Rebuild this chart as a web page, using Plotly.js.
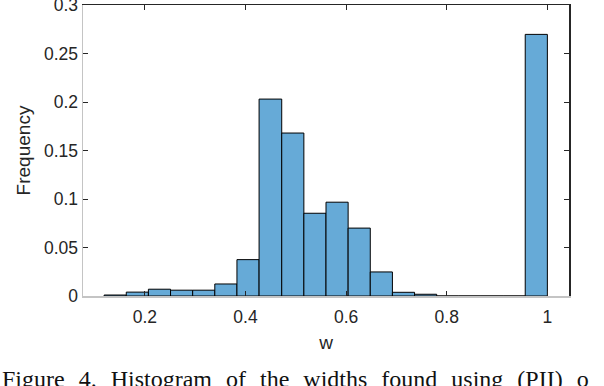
<!DOCTYPE html>
<html>
<head>
<meta charset="utf-8">
<script src="https://cdn.plot.ly/plotly-3.0.1.min.js"></script>
<style>
  html, body { margin: 0; padding: 0; background: #fff; }
  #histPlot { width: 604px; height: 386px; }
</style>
</head>
<body>
<div id="histPlot"></div>
<script>
const HIST = document.getElementById("histPlot");

// bin edges of the histogram (20 bins, 0.119 .. 1.0)
var binEdges = [0.119, 0.163, 0.207, 0.251, 0.295, 0.339, 0.383, 0.427, 0.472, 0.516,
                0.560, 0.604, 0.648, 0.692, 0.736, 0.780, 0.824, 0.868, 0.912, 0.956, 1.0];
// relative frequency in each bin
var freq = [0.001, 0.004, 0.007, 0.006, 0.006, 0.0124, 0.0375, 0.203, 0.168, 0.0853,
            0.0967, 0.070, 0.0248, 0.0038, 0.0018, 0, 0, 0, 0, 0.2697];
var xTicks = [0.2, 0.4, 0.6, 0.8, 1];
var xTickText = ["0.2", "0.4", "0.6", "0.8", "1"];
var yTicks = [0, 0.05, 0.1, 0.15, 0.2, 0.25, 0.3];
var yTickText = ["0", "0.05", "0.1", "0.15", "0.2", "0.25", "0.3"];
var captionWords = ["Figure", "4.", "Histogram", "of", "the", "widths", "found", "using", "(PII)", "o"];

var centers = [];
var widths = [];
for (var i = 0; i < freq.length; i++) {
    centers.push((binEdges[i] + binEdges[i + 1]) / 2);
    widths.push(binEdges[i + 1] - binEdges[i]);
}

var xRange = [0.077, 1.043];
var yRange = [0, 0.3];
var tickFont = {family: "Liberation Sans, Arial, sans-serif", size: 17.5, color: "#262626"};
var labelFont = {family: "Liberation Sans, Arial, sans-serif", size: 19, color: "#262626"};

Plotly.newPlot(HIST, [{
        x: centers,
        y: freq,
        width: widths,
        type: "bar",
        marker: {color: "#66aad7", line: {color: "#000000", width: 1}},
        hoverinfo: "x+y"
    }, {
        // dummy trace to bring up the top/right axes
        x: [xRange[0]], y: [0], xaxis: "x2", yaxis: "y2",
        mode: "markers", marker: {opacity: 0}, showlegend: false, hoverinfo: "skip"
    }],
    {
        width: 604,
        height: 386,
        margin: {t: 5, r: 35, l: 83, b: 90},
        paper_bgcolor: "#ffffff",
        plot_bgcolor: "#ffffff",
        showlegend: false,
        bargap: 0,
        xaxis: {
            range: xRange,
            tickvals: xTicks,
            ticktext: xTickText,
            ticks: "inside", ticklen: 5, tickcolor: "#262626", tickwidth: 1,
            showline: true, linecolor: "#c4c4c4", linewidth: 1.5,
            showgrid: false, zeroline: false,
            tickfont: tickFont,
            ticklabelstandoff: 4,
            title: {text: "w", font: labelFont, standoff: 10}
        },
        yaxis: {
            range: yRange,
            tickvals: yTicks,
            ticktext: yTickText,
            ticks: "inside", ticklen: 5, tickcolor: "#262626", tickwidth: 1,
            showline: true, linecolor: "#c4c4c4", linewidth: 1.5,
            showgrid: false, zeroline: false,
            tickfont: tickFont,
            ticklabeloverflow: "allow",
            title: {text: "Frequency", font: labelFont, standoff: 8}
        },
        xaxis2: {
            overlaying: "x", side: "top", range: xRange, tickvals: xTicks,
            showticklabels: false, ticks: "inside", ticklen: 5, tickcolor: "#262626",
            showline: true, linecolor: "#262626", linewidth: 1.5,
            showgrid: false, zeroline: false
        },
        yaxis2: {
            overlaying: "y", side: "right", range: yRange, tickvals: yTicks,
            showticklabels: false, ticks: "inside", ticklen: 5, tickcolor: "#262626",
            showline: true, linecolor: "#262626", linewidth: 1.5,
            showgrid: false, zeroline: false
        },
        annotations: [{
            xref: "paper", yref: "paper",
            x: -0.1708, y: -0.2337,
            xanchor: "left", yanchor: "top",
            showarrow: false,
            align: "left",
            text: captionWords.join("\u00a0\u00a0\u200a"),
            font: {family: "Liberation Serif, Times New Roman, serif", size: 24, color: "#111111"}
        }]
    },
    {displayModeBar: false, staticPlot: true}
);
</script>
</body>
</html>
